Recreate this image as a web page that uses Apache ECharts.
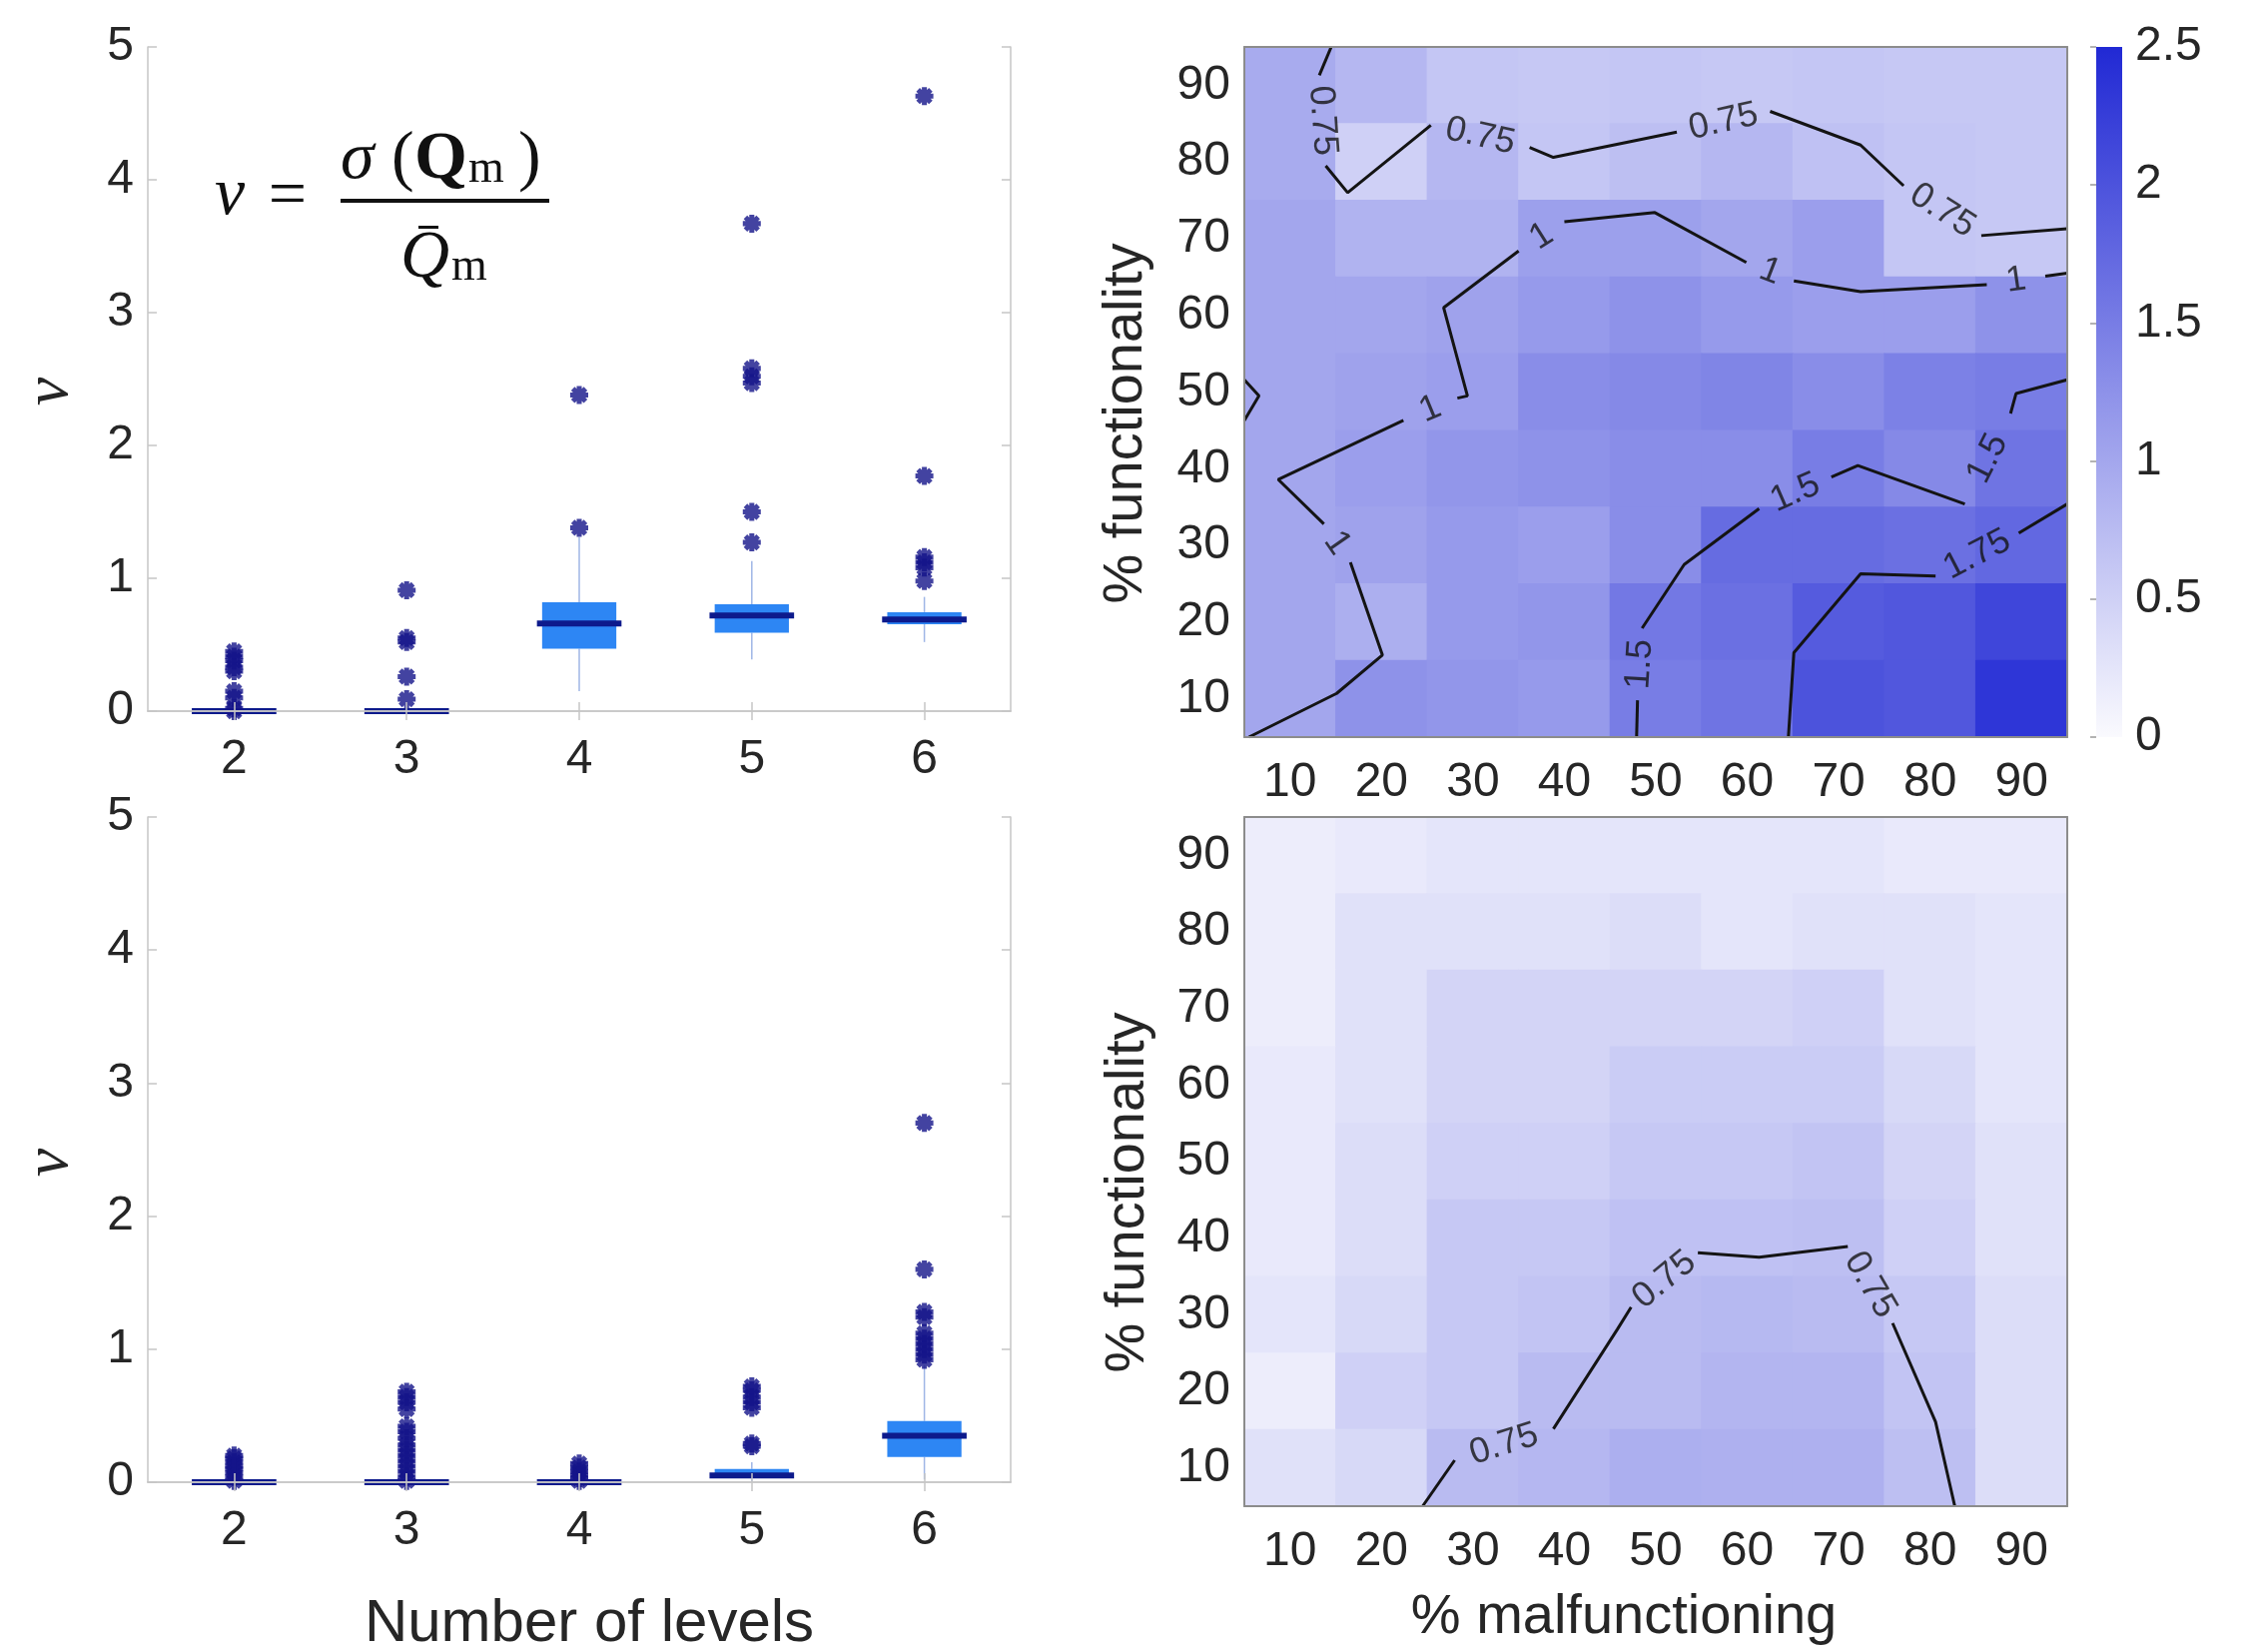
<!DOCTYPE html>
<html><head><meta charset="utf-8">
<script src="https://cdn.jsdelivr.net/npm/echarts@6/dist/echarts.min.js"></script>
<style>html,body{margin:0;padding:0;background:#fff}#c{width:2257px;height:1654px}</style>
</head><body><div id="c"></div>
<script>
// ---------------- DATA ----------------
const BOX_CATS = ['2', '3', '4', '5', '6'];
// [low whisker, q1, median, q3, high whisker]
const BOX_TOP = [
  [0, 0, 0, 0, 0],
  [0, 0, 0, 0, 0],
  [0.15, 0.47, 0.66, 0.82, 1.31],
  [0.39, 0.59, 0.72, 0.805, 1.13],
  [0.52, 0.655, 0.69, 0.745, 0.86]
];
const OUT_TOP = [
  [0.45, 0.41, 0.38, 0.33, 0.30, 0.15, 0.10, 0.02, 0],
  [0.91, 0.55, 0.52, 0.26, 0.09],
  [1.38, 2.38],
  [1.27, 1.50, 2.47, 2.52, 2.58, 3.67],
  [0.98, 1.08, 1.12, 1.16, 1.77, 4.63]
];
const BOX_BOTTOM = [
  [0, 0, 0, 0, 0],
  [0, 0, 0, 0, 0],
  [0, 0, 0, 0, 0],
  [0, 0.03, 0.05, 0.10, 0.15],
  [0.02, 0.19, 0.35, 0.46, 0.88]
];
const OUT_BOTTOM = [
  [0.20, 0.18, 0.15, 0.12, 0.10, 0.07, 0.04, 0.01],
  [0.68, 0.64, 0.60, 0.55, 0.42, 0.38, 0.33, 0.28, 0.24, 0.20, 0.16, 0.12, 0.08, 0.04, 0.01],
  [0.14, 0.11, 0.08, 0.05, 0.03, 0.01],
  [0.27, 0.29, 0.56, 0.60, 0.64, 0.69, 0.72],
  [0.92, 0.96, 1.00, 1.04, 1.08, 1.12, 1.24, 1.28, 1.60, 2.70]
];
const NU_TICKS = [0, 1, 2, 3, 4, 5];

const PCT_X = [10, 20, 30, 40, 50, 60, 70, 80, 90];   // % malfunctioning
const PCT_Y = [90, 80, 70, 60, 50, 40, 30, 20, 10];   // % functionality (row order)
const HEAT_TOP = [
  [0.95, 0.80, 0.62, 0.60, 0.62, 0.60, 0.62, 0.60, 0.60],
  [0.95, 0.50, 0.80, 0.62, 0.70, 0.80, 0.68, 0.62, 0.60],
  [1.00, 0.85, 0.85, 1.08, 1.08, 1.00, 1.10, 0.62, 0.60],
  [1.00, 1.00, 1.05, 1.15, 1.25, 1.15, 1.10, 1.10, 1.25],
  [1.00, 1.05, 1.10, 1.30, 1.35, 1.40, 1.30, 1.45, 1.50],
  [1.00, 1.10, 1.20, 1.25, 1.30, 1.30, 1.50, 1.35, 1.60],
  [1.00, 1.05, 1.15, 1.10, 1.30, 1.70, 1.70, 1.65, 1.75],
  [1.00, 0.90, 1.15, 1.20, 1.55, 1.65, 1.90, 1.95, 2.15],
  [1.00, 1.25, 1.20, 1.15, 1.50, 1.60, 2.00, 1.95, 2.35]
];
const HEAT_BOTTOM = [
  [0.15, 0.20, 0.25, 0.25, 0.25, 0.25, 0.25, 0.20, 0.20],
  [0.15, 0.30, 0.30, 0.30, 0.35, 0.25, 0.30, 0.30, 0.25],
  [0.15, 0.30, 0.45, 0.45, 0.45, 0.45, 0.50, 0.30, 0.25],
  [0.20, 0.30, 0.45, 0.45, 0.55, 0.55, 0.55, 0.40, 0.25],
  [0.20, 0.35, 0.50, 0.50, 0.60, 0.60, 0.65, 0.45, 0.30],
  [0.20, 0.35, 0.60, 0.60, 0.68, 0.68, 0.70, 0.50, 0.30],
  [0.25, 0.40, 0.60, 0.65, 0.75, 0.78, 0.75, 0.60, 0.35],
  [0.15, 0.50, 0.60, 0.75, 0.75, 0.82, 0.82, 0.65, 0.35],
  [0.30, 0.40, 0.75, 0.80, 0.90, 0.88, 0.88, 0.70, 0.35]
];
const COLORBAR_TICKS = [0, 0.5, 1, 1.5, 2, 2.5];
const COLORMAP = ['#fafafe', '#2129d4'];

// contour lines: level + polyline segments [x%, y%]; a label sits between consecutive segments
const CONTOURS_TOP = [
  {level: 0.75, segments: [
    [[14.5, 95], [13.2, 91.3]],
    [[13.9, 79.5], [16.3, 76.0], [25.4, 84.8]],
    [[36.2, 81.9], [38.8, 80.6], [52.3, 83.9]],
    [[62.5, 86.6], [72.4, 82.2], [77.1, 76.9]],
    [[85.6, 70.4], [95, 71.3]]
  ]},
  {level: 1, segments: [
    [[5.5, 5], [15.1, 10.7], [20.1, 15.7], [16.6, 27.8]],
    [[13.7, 32.8], [8.7, 38.6], [22.4, 46.3]],
    [[28.3, 49.2], [29.4, 49.5], [26.8, 61.0], [35.0, 68.4]],
    [[40.0, 72.2], [49.9, 73.4], [59.9, 66.9]],
    [[65.1, 64.5], [72.4, 63.1], [86.2, 64.0]],
    [[92.6, 65.1], [95, 65.5]]
  ]},
  {level: 1, segments: [
    [[5, 51.6], [6.6, 49.5], [5, 46.3]]
  ]},
  {level: 1.5, segments: [
    [[47.9, 5], [48.0, 9.8]],
    [[48.5, 19.2], [53.1, 27.5], [61.3, 34.8]],
    [[69.2, 38.9], [72.1, 40.4], [83.8, 35.4]],
    [[88.8, 47.2], [89.4, 49.8], [95, 51.6]]
  ]},
  {level: 1.75, segments: [
    [[64.5, 5], [65.1, 16.0], [72.4, 26.3], [80.6, 26.0]],
    [[89.7, 31.6], [95, 35.4]]
  ]}
];
const CONTOURS_BOTTOM = [
  {level: 0.75, segments: [
    [[24.5, 5], [28.0, 11.0]],
    [[38.8, 15.1], [45.8, 28.1], [47.3, 31.0]],
    [[54.6, 38.1], [61.3, 37.5], [71.0, 38.9]],
    [[75.9, 28.9], [80.6, 16.0], [82.7, 5]]
  ]}
];

// ---------------- STYLE ----------------
const FONT = '"Liberation Sans", Arial, sans-serif';
const SERIF = '"Liberation Serif", "Times New Roman", serif';
const TXT = '#262626';
const FRAME = '#c6c6c6';
const HFRAME = '#8c8c8c';
const BOX_FILL = '#2d86f4';
const MED = '#0d1a8c';
const WHISK = '#9fb6e6';
const STAR = '#14148a';
const STAR_PATH = 'path://M-2.8,-10 L2.8,-10 L2.8,10 L-2.8,10 Z M-10,-2.8 L10,-2.8 L10,2.8 L-10,2.8 Z M-5.09,-9.05 L9.05,5.09 L5.09,9.05 L-9.05,-5.09 Z M-5.09,9.05 L-9.05,5.09 L5.09,-9.05 L9.05,-5.09 Z';
const TICK_FS = 48;

const chart = echarts.init(document.getElementById('c'), null, {renderer: 'canvas', width: 2257, height: 1654});

const GRIDS = [
  {left: 148, top: 47, width: 864, height: 665},
  {left: 148, top: 818, width: 864, height: 666},
  {left: 1246, top: 47, width: 824, height: 691},
  {left: 1246, top: 818, width: 824, height: 690},
  {left: 2099, top: 47, width: 26, height: 691}
];

const tickStyle = {color: FRAME, width: 1.5};
function boxX(g, pos) {
  return {type: 'category', gridIndex: g, data: BOX_CATS, position: pos, boundaryGap: true, z: 10,
    axisLine: {show: true, lineStyle: {color: FRAME, width: 1.5}},
    axisTick: {show: true, inside: true, alignWithLabel: true, length: 9, lineStyle: tickStyle},
    axisLabel: {show: pos === 'bottom', margin: 25, fontSize: TICK_FS, color: TXT, fontFamily: FONT},
    splitLine: {show: false}};
}
function boxY(g, pos) {
  return {type: 'value', gridIndex: g, min: NU_TICKS[0], max: NU_TICKS[NU_TICKS.length - 1], interval: NU_TICKS[1] - NU_TICKS[0], position: pos, z: 10,
    axisLine: {show: true, lineStyle: {color: FRAME, width: 1.5}},
    axisTick: {show: true, inside: true, length: 9, lineStyle: tickStyle},
    axisLabel: {show: pos === 'left', margin: 14, fontSize: TICK_FS, color: TXT, fontFamily: FONT},
    splitLine: {show: false}};
}
function heatX(g, pos) {
  return {type: 'value', gridIndex: g, min: 5, max: 95, position: pos, z: 10,
    axisLine: {show: true, onZero: false, lineStyle: {color: HFRAME, width: 2}},
    axisTick: {show: false},
    axisLabel: {show: pos === 'bottom', customValues: PCT_X, margin: 22, fontSize: TICK_FS, color: TXT, fontFamily: FONT},
    splitLine: {show: false}};
}
function heatY(g, pos) {
  return {type: 'value', gridIndex: g, min: 5, max: 95, position: pos, z: 10,
    axisLine: {show: true, onZero: false, lineStyle: {color: HFRAME, width: 2}},
    axisTick: {show: false},
    axisLabel: {show: pos === 'left', customValues: PCT_Y.slice().reverse(), margin: 14, fontSize: TICK_FS, color: TXT, fontFamily: FONT},
    splitLine: {show: false}};
}

const xAxes = [boxX(0, 'bottom'), boxX(0, 'top'), boxX(1, 'bottom'), boxX(1, 'top'),
  heatX(2, 'bottom'), heatX(2, 'top'), heatX(3, 'bottom'), heatX(3, 'top'),
  {type: 'value', gridIndex: 4, min: 0, max: 1, show: false}];
const yAxes = [boxY(0, 'left'), boxY(0, 'right'), boxY(1, 'left'), boxY(1, 'right'),
  heatY(2, 'left'), heatY(2, 'right'), heatY(3, 'left'), heatY(3, 'right'),
  {type: 'value', gridIndex: 4, min: 0, max: 2.5, interval: 0.5, position: 'right', z: 10,
    axisLine: {show: false},
    axisTick: {show: true, inside: true, length: 6, lineStyle: {color: '#9a9a9a', width: 1.5}},
    axisLabel: {margin: 13, fontSize: TICK_FS, color: TXT, fontFamily: FONT, formatter: v => String(v)},
    splitLine: {show: false}}];

function boxRender(params, api) {
  const i = api.value(0);
  const lo = api.value(1), q1 = api.value(2), md = api.value(3), q3 = api.value(4), hi = api.value(5);
  const band = api.size([1, 0])[0];
  const bw = band * 0.43, mw = band * 0.49;
  const pM = api.coord([i, md]), pLo = api.coord([i, lo]), pQ1 = api.coord([i, q1]), pQ3 = api.coord([i, q3]), pHi = api.coord([i, hi]);
  const cx = pM[0];
  return {type: 'group', children: [
    {type: 'line', shape: {x1: cx, y1: pHi[1], x2: cx, y2: pQ3[1]}, style: {stroke: WHISK, lineWidth: 1.5}},
    {type: 'line', shape: {x1: cx, y1: pQ1[1], x2: cx, y2: pLo[1]}, style: {stroke: WHISK, lineWidth: 1.5}},
    {type: 'rect', shape: {x: cx - bw / 2, y: pQ3[1], width: bw, height: pQ1[1] - pQ3[1]}, style: {fill: BOX_FILL}},
    {type: 'line', shape: {x1: cx - mw / 2, y1: pM[1], x2: cx + mw / 2, y2: pM[1]}, style: {stroke: MED, lineWidth: 6}}
  ]};
}
function heatRender(params, api) {
  const x = api.value(0), y = api.value(1);
  const half = (PCT_X[1] - PCT_X[0]) / 2;
  const p0 = api.coord([x - half, y + half]), p1 = api.coord([x + half, y - half]);
  return {type: 'rect', shape: {x: p0[0] - 0.5, y: p0[1] - 0.5, width: p1[0] - p0[0] + 1, height: p1[1] - p0[1] + 1},
    style: {fill: api.visual('color')}};
}
function heatData(mat) {
  const d = [];
  mat.forEach((row, r) => row.forEach((v, c) => d.push([PCT_X[c], PCT_Y[r], v])));
  return d;
}
function outData(arr) {
  const d = [];
  arr.forEach((vals, i) => vals.forEach(v => d.push([BOX_CATS[i], v])));
  return d;
}

const series = [
  {type: 'custom', xAxisIndex: 0, yAxisIndex: 0, renderItem: boxRender, encode: {x: 0, y: [1, 2, 3, 4, 5]}, z: 2,
    data: BOX_TOP.map((b, i) => [i].concat(b)), silent: true},
  {type: 'scatter', xAxisIndex: 0, yAxisIndex: 0, symbol: STAR_PATH, symbolSize: 18, z: 3,
    itemStyle: {color: STAR}, data: outData(OUT_TOP), silent: true},
  {type: 'custom', xAxisIndex: 2, yAxisIndex: 2, renderItem: boxRender, encode: {x: 0, y: [1, 2, 3, 4, 5]}, z: 2,
    data: BOX_BOTTOM.map((b, i) => [i].concat(b)), silent: true},
  {type: 'scatter', xAxisIndex: 2, yAxisIndex: 2, symbol: STAR_PATH, symbolSize: 18, z: 3,
    itemStyle: {color: STAR}, data: outData(OUT_BOTTOM), silent: true},
  {type: 'custom', xAxisIndex: 4, yAxisIndex: 4, renderItem: heatRender, encode: {x: 0, y: 1}, z: 1,
    data: heatData(HEAT_TOP), silent: true},
  {type: 'custom', xAxisIndex: 6, yAxisIndex: 6, renderItem: heatRender, encode: {x: 0, y: 1}, z: 1,
    data: heatData(HEAT_BOTTOM), silent: true},
  {type: 'custom', xAxisIndex: 8, yAxisIndex: 8, z: 1, silent: true,
    data: [[0, COLORBAR_TICKS[0], COLORBAR_TICKS[COLORBAR_TICKS.length - 1]]],
    encode: {x: 0, y: [1, 2]},
    renderItem: function (params, api) {
      const p0 = api.coord([0, api.value(2)]), p1 = api.coord([1, api.value(1)]);
      return {type: 'rect', shape: {x: p0[0], y: p0[1], width: p1[0] - p0[0], height: p1[1] - p0[1]},
        style: {fill: new echarts.graphic.LinearGradient(0, 1, 0, 0, COLORMAP.map((c, k) => ({offset: k / (COLORMAP.length - 1), color: c})))}};
    }}
];

const F = 68, FS = 46;
const graphic = [
  {type: 'text', x: 590, y: 1626, style: {text: 'Number of levels', font: '60px ' + FONT, fill: TXT, align: 'center', verticalAlign: 'middle'}},
  {type: 'text', x: 1626, y: 1620, style: {text: '% malfunctioning', font: '56px ' + FONT, fill: TXT, align: 'center', verticalAlign: 'middle'}},
  {type: 'text', x: 1128, y: 424, rotation: Math.PI / 2, style: {text: '% functionality', font: '56px ' + FONT, fill: TXT, align: 'center', verticalAlign: 'middle'}},
  {type: 'text', x: 1130, y: 1194, rotation: Math.PI / 2, style: {text: '% functionality', font: '56px ' + FONT, fill: TXT, align: 'center', verticalAlign: 'middle'}},
  {type: 'text', x: 50, y: 392, rotation: Math.PI / 2, style: {text: 'ν', font: 'italic 64px ' + SERIF, fill: TXT, align: 'center', verticalAlign: 'middle'}},
  {type: 'text', x: 50, y: 1164, rotation: Math.PI / 2, style: {text: 'ν', font: 'italic 64px ' + SERIF, fill: TXT, align: 'center', verticalAlign: 'middle'}},
  // formula  ν = σ(Qm) / Q̄m
  {type: 'text', x: 230, y: 196, style: {text: 'ν', font: 'italic ' + F + 'px ' + SERIF, fill: '#111', align: 'center', verticalAlign: 'middle'}},
  {type: 'text', x: 288, y: 198, style: {text: '=', font: F + 'px ' + SERIF, fill: '#111', align: 'center', verticalAlign: 'middle'}},
  {type: 'text', x: 341, y: 160, style: {text: 'σ', font: 'italic ' + F + 'px ' + SERIF, fill: '#111', align: 'left', verticalAlign: 'middle'}},
  {type: 'text', x: 392, y: 160, style: {text: '(', font: F + 'px ' + SERIF, fill: '#111', align: 'left', verticalAlign: 'middle'}},
  {type: 'text', x: 415, y: 160, style: {text: 'Q', font: 'bold ' + F + 'px ' + SERIF, fill: '#111', align: 'left', verticalAlign: 'middle'}},
  {type: 'text', x: 469, y: 170, style: {text: 'm', font: FS + 'px ' + SERIF, fill: '#111', align: 'left', verticalAlign: 'middle'}},
  {type: 'text', x: 519, y: 160, style: {text: ')', font: F + 'px ' + SERIF, fill: '#111', align: 'left', verticalAlign: 'middle'}},
  {type: 'rect', shape: {x: 341, y: 199, width: 209, height: 4}, style: {fill: '#111'}},
  {type: 'text', x: 401, y: 259, style: {text: 'Q', font: 'italic ' + F + 'px ' + SERIF, fill: '#111', align: 'left', verticalAlign: 'middle'}},
  {type: 'rect', shape: {x: 419, y: 226, width: 20, height: 3}, style: {fill: '#111'}},
  {type: 'text', x: 452, y: 268, style: {text: 'm', font: FS + 'px ' + SERIF, fill: '#111', align: 'left', verticalAlign: 'middle'}}
];

const option = {
  animation: false,
  backgroundColor: '#ffffff',
  grid: GRIDS.map(g => Object.assign({containLabel: false, show: false}, g)),
  xAxis: xAxes,
  yAxis: yAxes,
  visualMap: [{type: 'continuous', show: false, min: COLORBAR_TICKS[0], max: COLORBAR_TICKS[COLORBAR_TICKS.length - 1],
    dimension: 2, seriesIndex: [4, 5], inRange: {color: COLORMAP}}],
  series: series,
  graphic: graphic
};
chart.setOption(option);

// contour lines + inline labels (angles from the library's own pixel mapping)
function contourSeries(contours, axisIdx) {
  const out = [];
  const labels = [];
  const finder = {xAxisIndex: axisIdx, yAxisIndex: axisIdx};
  contours.forEach(c => {
    c.segments.forEach(seg => out.push({type: 'line', xAxisIndex: axisIdx, yAxisIndex: axisIdx, data: seg,
      showSymbol: false, symbol: 'none', silent: true, z: 4, clip: true,
      lineStyle: {color: '#141414', width: 3}}));
    for (let k = 0; k < c.segments.length - 1; k++) {
      const a = c.segments[k][c.segments[k].length - 1];
      const b = c.segments[k + 1][0];
      const pa = chart.convertToPixel(finder, a);
      const pb = chart.convertToPixel(finder, b);
      let ang = -Math.atan2(pb[1] - pa[1], pb[0] - pa[0]) * 180 / Math.PI;
      if (ang > 90) ang -= 180;
      if (ang <= -90) ang += 180;
      labels.push({value: [(a[0] + b[0]) / 2, (a[1] + b[1]) / 2], label: {rotate: ang, formatter: String(c.level)}});
    }
  });
  out.push({type: 'scatter', xAxisIndex: axisIdx, yAxisIndex: axisIdx, symbolSize: 1, silent: true, z: 5,
    itemStyle: {color: 'rgba(0,0,0,0)'}, data: labels,
    label: {show: true, position: 'inside', align: 'center', verticalAlign: 'middle',
      fontSize: 36, color: '#141414', fontFamily: FONT}});
  return out;
}
const extra = contourSeries(CONTOURS_TOP, 4).concat(contourSeries(CONTOURS_BOTTOM, 6));
chart.setOption({series: series.concat(extra)});
</script></body></html>
